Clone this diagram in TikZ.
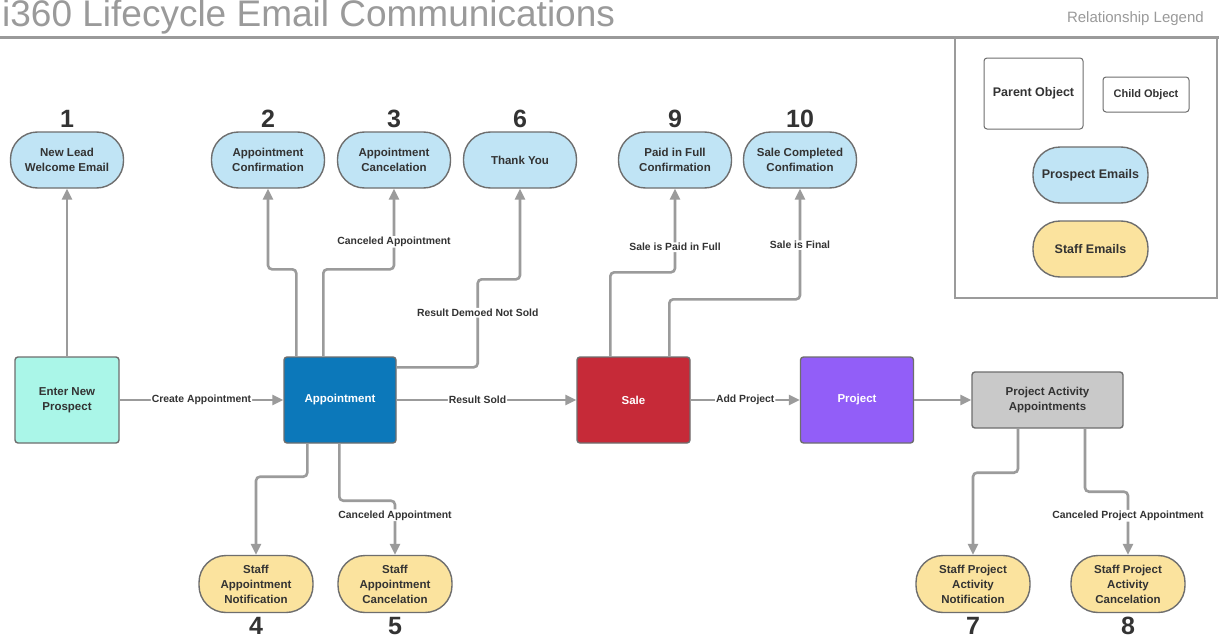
\documentclass[tikz,border=0pt]{standalone}
\usepackage{fontspec}
\setmainfont{Liberation Sans}
\usetikzlibrary{arrows.meta,calc}
\definecolor{lnc}{HTML}{9B9B9B}
\definecolor{bdc}{HTML}{6E6E6E}
\definecolor{txc}{HTML}{333333}
\definecolor{pblue}{HTML}{C0E4F5}
\definecolor{syel}{HTML}{FBE39E}
\definecolor{aqua}{HTML}{AAF6E8}
\definecolor{apblue}{HTML}{0C78BA}
\definecolor{salered}{HTML}{C62A38}
\definecolor{projpur}{HTML}{925EF8}
\definecolor{paagray}{HTML}{C9C9C9}
\definecolor{titlec}{HTML}{9A9A9A}
\begin{document}
\begin{tikzpicture}[x=1pt,y=-1pt,
 nodefont/.style={font=\fontsize{11.5}{15}\selectfont\bfseries},
 email/.style={draw=bdc, line width=1.4pt, rounded corners=27pt, minimum width=113pt, minimum height=56pt, align=center, text=txc, nodefont, inner sep=0pt},
 pemail/.style={email, fill=pblue},
 semail/.style={email, fill=syel, minimum width=114pt, minimum height=57pt},
 obj/.style={draw=bdc, line width=1.4pt, rounded corners=3pt, minimum width=112pt, minimum height=86pt, align=center, nodefont, inner sep=0pt},
 num/.style={font=\fontsize{25}{25}\selectfont\bfseries, text=txc, anchor=base, inner sep=0pt},
 conn/.style={draw=lnc, line width=2.6pt, rounded corners=4pt, -{Triangle[length=11pt,width=10pt]}},
 lbl/.style={fill=white, text=txc, font=\fontsize{10.4}{12}\selectfont\bfseries, inner sep=1pt},
 legobj/.style={draw=bdc, line width=1pt, rounded corners=3pt, text=txc, inner sep=0pt},
]
\fill[white] (0,0) rectangle (1219,637);
\useasboundingbox (0,0) rectangle (1219,637);

% title and legend frame
\node[anchor=base west, font=\fontsize{37}{37}\selectfont, text=titlec, inner sep=0pt] (title) at (2,27) {i360 Lifecycle Email Communications};
\draw[titlec, line width=3pt] (0,37) -- (1219,37);
\node[anchor=base east, font=\fontsize{15}{15}\selectfont, text=titlec, inner sep=0pt] (legtitle) at (1204,22) {Relationship Legend};
\node[draw=lnc, line width=2.5pt, minimum width=262pt, minimum height=261pt, inner sep=0pt] (legend) at (1086,167.5) {};
\node[legobj, minimum width=99pt, minimum height=71pt, font=\fontsize{12.5}{14}\selectfont\bfseries] (parent) at (1033.5,93.5) {Parent Object};
\node[legobj, minimum width=86pt, minimum height=35pt, font=\fontsize{11}{13}\selectfont\bfseries] (child) at (1146,94.5) {Child Object};
\node[pemail, minimum width=115pt, font=\fontsize{12.5}{14}\selectfont\bfseries] (lp) at (1090.5,175) {Prospect Emails};
\node[semail, minimum width=115pt, minimum height=56pt, font=\fontsize{12.5}{14}\selectfont\bfseries] (ls) at (1090.5,249) {Staff Emails};

% top emails
\node[pemail] (n1) at (67,160) {New Lead\\Welcome Email};
\node[pemail] (n2) at (268,160) {Appointment\\Confirmation};
\node[pemail] (n3) at (394,160) {Appointment\\Cancelation};
\node[pemail] (n6) at (520,160) {Thank You};
\node[pemail] (n9) at (675,160) {Paid in Full\\Confirmation};
\node[pemail] (n10) at (800,160) {Sale Completed\\Confimation};
\node[num] (d1) at (67,127) {1};
\node[num] (d2) at (268,127) {2};
\node[num] (d3) at (394,127) {3};
\node[num] (d6) at (520,127) {6};
\node[num] (d9) at (675,127) {9};
\node[num] (d10) at (800,127) {10};

% main objects
\node[obj, fill=aqua, text=txc, minimum width=104pt] (enter) at (67,400) {Enter New\\Prospect};
\node[obj, fill=apblue, text=white] (appt) at (340,400) {Appointment};
\node[obj, fill=salered, text=white, minimum width=113pt] (sale) at (633.5,400) {Sale};
\node[obj, fill=projpur, text=white, minimum width=113pt] (proj) at (857,400) {Project};
\node[obj, fill=paagray, text=txc, minimum width=151pt, minimum height=56pt] (paa) at (1047.5,400) {Project Activity\\Appointments};

% bottom emails
\node[semail] (n4) at (256,584) {Staff\\Appointment\\Notification};
\node[semail] (n5) at (395,584) {Staff\\Appointment\\Cancelation};
\node[semail] (n7) at (973,584) {Staff Project\\Activity\\Notification};
\node[semail] (n8) at (1128,584) {Staff Project\\Activity\\Cancelation};
\node[num] (d4) at (256,634) {4};
\node[num] (d5) at (395,634) {5};
\node[num] (d7) at (973,634) {7};
\node[num] (d8) at (1128,634) {8};

% connectors
\draw[conn] (enter.north) -- (n1.south);
\draw[conn] (enter.east) -- node[lbl]{Create Appointment} (appt.west);
\draw[conn] ([xshift=13pt]appt.north west) -- ++(0,-87) -| (n2.south);
\draw[conn] ([xshift=40pt]appt.north west) -- ++(0,-87) -| node[lbl, pos=0.67]{Canceled Appointment} (n3.south);
\draw[conn] ([yshift=-11pt]appt.north east) -- ++(81,0) -- node[lbl, pos=0.62]{Result Demoed Not Sold} ++(0,-88) -| (n6.south);
\draw[conn] (appt.east) -- node[lbl, pos=0.45]{Result Sold} (sale.west);
\draw[conn] ([xshift=34pt]sale.north west) -- ++(0,-84) -| node[lbl, pos=0.65]{Sale is Paid in Full} (n9.south);
\draw[conn] ([xshift=93pt]sale.north west) -- ++(0,-57) -| node[lbl, pos=0.745]{Sale is Final} (n10.south);
\draw[conn] (sale.east) -- node[lbl]{Add Project} (proj.west);
\draw[conn] (proj.east) -- (paa.west);
\draw[conn] ([xshift=24pt]appt.south west) -- ++(0,33) -| (n4.north);
\draw[conn] ([xshift=56pt]appt.south west) -- ++(0,57) -| node[lbl, pos=0.635]{Canceled Appointment} (n5.north);
\draw[conn] ([xshift=-29.5pt]paa.south) -- ++(0,44) -| (n7.north);
\draw[conn] ([xshift=37.5pt]paa.south) -- ++(0,63) -| node[lbl, pos=0.69]{Canceled Project Appointment} (n8.north);
\end{tikzpicture}
\end{document}
